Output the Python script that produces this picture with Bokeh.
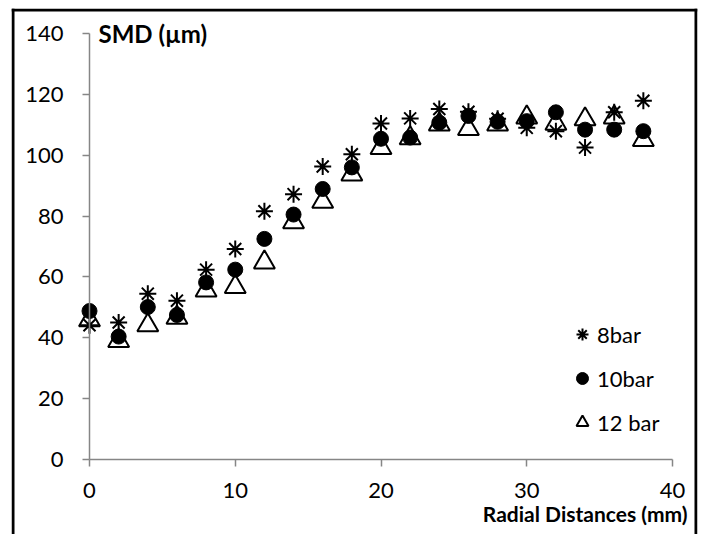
from bokeh.plotting import figure
from bokeh.models import Range1d, Span, Label, Legend, LegendItem, FixedTicker
from bokeh.embed import file_html
from bokeh.resources import INLINE

# ---- data ----
distance = [0, 2, 4, 6, 8, 10, 12, 14, 16, 18, 20, 22, 24, 26, 28, 30, 32, 34, 36, 38]
smd_8bar = [44.1, 45.0, 54.5, 52.2, 62.4, 69.2, 81.6, 87.2, 96.3, 100.3,
            110.4, 112.1, 115.2, 114.3, 112.0, 109.0, 107.9, 102.5, 114.1, 117.9]
smd_10bar = [48.8, 40.4, 50.1, 47.5, 58.2, 62.4, 72.5, 80.5, 88.9, 96.0,
             105.4, 105.8, 110.7, 112.9, 111.0, 111.2, 114.1, 108.4, 108.4, 107.9]
smd_12bar = [45.8, 39.0, 44.1, 46.6, 55.6, 56.7, 64.8, 78.0, 84.7, 93.7,
             102.4, 105.6, 110.1, 108.6, 110.1, 112.4, 110.4, 111.8, 112.4, 105.0]
x_ticks = [0, 10, 20, 30, 40]
y_ticks = [0, 20, 40, 60, 80, 100, 120, 140]
series_names = ["8bar", "10bar", "12 bar"]
x_title = "Radial Distances (mm)"
y_title = "SMD (\u00b5m)"

FONT = "Lato"
W, H = 704, 534
# frame = outer bordered box; data area inside it
FL, FR, FT, FB = 11, 697, 8, 534
X0PX, X40PX, Y0PX, Y140PX = 89, 672, 459, 33
ppx = (X40PX - X0PX) / 40.0
ppy = (Y0PX - Y140PX) / 140.0
x_start = -(X0PX - FL) / ppx
x_end = 40 + (FR - X40PX) / ppx
y_end = 140 + (Y140PX - FT) / ppy
y_start = -(FB - Y0PX) / ppy

p = figure(width=W, height=H, output_backend="svg", toolbar_location=None,
           x_range=Range1d(x_start, x_end), y_range=Range1d(y_start, y_end),
           min_border_left=FL, min_border_right=W - FR, min_border_top=FT,
           min_border_bottom=H - FB)
p.background_fill_color = "white"
p.border_fill_color = "white"
p.outline_line_color = None
p.grid.visible = False

AX = "#868686"
for ax, ticks, bnds in ((p.xaxis, x_ticks, (0, 40)), (p.yaxis, y_ticks, (0, 140))):
    ax.fixed_location = 0
    ax.bounds = bnds
    ax.ticker = FixedTicker(ticks=ticks)
    ax.axis_line_color = AX
    ax.axis_line_width = 1.5
    ax.major_tick_line_color = AX
    ax.major_tick_line_width = 1.5
    ax.major_tick_in = 0
    ax.major_tick_out = 7
    ax.minor_tick_line_color = None
    ax.major_label_text_font = FONT
    ax.major_label_text_font_size = "22px"
    ax.major_label_text_color = "black"
p.xaxis.major_label_standoff = 16
p.yaxis.major_label_standoff = 19

# outer border (top, left, right)
p.add_layout(Span(location=x_start + 1.5 / ppx, dimension="height", line_color="black", line_width=3))
p.add_layout(Span(location=x_end - 1.5 / ppx, dimension="height", line_color="black", line_width=3))
p.add_layout(Span(location=y_end - 1.5 / ppy, dimension="width", line_color="black", line_width=3))

r8 = p.scatter(distance, smd_8bar, marker="asterisk", size=17, line_color="black", line_width=2)
r10 = p.scatter(distance, smd_10bar, marker="circle", size=15, fill_color="black", line_color="black")
r12 = p.scatter(distance, smd_12bar, marker="triangle", size=21, fill_alpha=0,
                line_color="black", line_width=2)

legend = Legend(items=[LegendItem(label=series_names[0], renderers=[r8]),
                       LegendItem(label=series_names[1], renderers=[r10]),
                       LegendItem(label=series_names[2], renderers=[r12])],
                location=(556, 97), orientation="vertical",
                glyph_width=30, glyph_height=30, label_height=30, spacing=14,
                label_standoff=0, padding=0, margin=0,
                label_text_font=FONT, label_text_font_size="22px",
                label_text_color="black",
                background_fill_alpha=0, border_line_color=None)
p.add_layout(legend)

p.add_layout(Label(x=0, y=140, x_offset=9, text=y_title, text_baseline="middle",
                   text_color="black",
                   text_font=FONT, text_font_style="bold", text_font_size="24px"))
p.add_layout(Label(x=40, y=y_start, x_offset=15, y_offset=21, text=x_title,
                   text_align="right", text_baseline="middle", text_color="black",
                   text_font=FONT, text_font_style="bold", text_font_size="21px"))

open("out.html", "w").write(file_html(p, INLINE))
